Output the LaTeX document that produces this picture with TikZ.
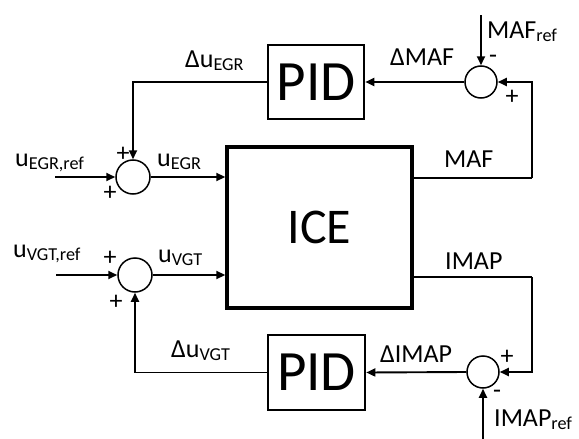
\documentclass[tikz,border=0pt]{standalone}
\usepackage{fontspec}
\setmainfont{Carlito}
\usepackage{tikz}
\usetikzlibrary{arrows.meta, calc}
\tikzset{
  block/.style={rectangle, draw=black, line width=2.6pt, inner sep=0pt},
  sumjunc/.style={circle, draw=black, line width=1.5pt, inner sep=0pt},
  arrow/.style={-{Triangle[length=9pt, width=8pt]}, line width=1.9pt},
  line/.style={line width=1.9pt},
  lbl/.style={font=\fontsize{26}{28}\selectfont, inner sep=0pt, anchor=base west},
  sgn/.style={font=\fontsize{26}{28}\selectfont, inner sep=0pt}
}

\begin{document}
\begin{tikzpicture}[x=1pt, y=-1pt]
  \useasboundingbox (0,0) rectangle (579,439);
  % engine and controllers
  \node[block, line width=3.4pt, minimum width=185pt, minimum height=161pt,
        font=\fontsize{50}{52}\selectfont] (ice) at (319.5,227.5) {ICE};
  \node[block, minimum width=96pt, minimum height=74pt,
        font=\fontsize{57}{60}\selectfont] (pidegr) at (316,82) {PID};
  \node[block, minimum width=97pt, minimum height=75pt,
        font=\fontsize{57}{60}\selectfont] (pidvgt) at (316.5,372.5) {PID};
  % summing junctions
  \node[sumjunc, minimum size=34pt] (sumegr) at (133,177) {};
  \node[sumjunc, minimum size=34pt] (sumvgt) at (135,275) {};
  \node[sumjunc, minimum size=32pt] (summaf) at (481,82) {};
  \node[sumjunc, minimum size=32pt] (sumimap) at (483,372) {};
  % free ends and corners
  \coordinate (egrref) at (55,177);
  \coordinate (vgtref) at (56,275);
  \coordinate (mafref) at (481,15);
  \coordinate (imapref) at (483,439);
  \coordinate (mafout) at (ice.east |- 0,178);
  \coordinate (imapout) at (ice.east |- 0,277);
  \coordinate (mafcorner) at (532,178);
  \coordinate (imapcorner) at (532,277);
  % EGR loop
  \draw[arrow] (egrref) -- (sumegr.west);
  \draw[arrow] (sumegr.east) -- (sumegr -| ice.west);
  \draw[arrow] (pidegr.west) -| (sumegr.north);
  \draw[line] (mafout) -- (mafcorner);
  \draw[arrow] (mafcorner) |- (summaf.east);
  \draw[arrow] (mafref) -- (summaf.north);
  \draw[arrow] (summaf.west) -- (pidegr.east);
  % VGT loop
  \draw[arrow] (vgtref) -- (sumvgt.west);
  \draw[arrow] (sumvgt.east) -- (sumvgt -| ice.west);
  \draw[arrow] (pidvgt.west) -| (sumvgt.south);
  \draw[line] (imapout) -- (imapcorner);
  \draw[arrow] (imapcorner) |- (sumimap.east);
  \draw[arrow] (imapref) -- (sumimap.south);
  \draw[arrow] (sumimap.west) -- (pidvgt.east);
  % signal labels
  \node[lbl] (lduegr) at (185,67) {Δu\textsubscript{EGR}};
  \node[lbl] (legrref) at (15,166) {u\textsubscript{EGR,ref}};
  \node[lbl] (luegr) at (157,166) {u\textsubscript{EGR}};
  \node[lbl] (ldmaf) at (390,65) {ΔMAF};
  \node[lbl] (lmafref) at (487,38) {MAF\textsubscript{ref}};
  \node[lbl] (lmaf) at (444,167) {MAF};
  \node[lbl] (limap) at (445,269) {IMAP};
  \node[lbl] (ldimap) at (380,362) {ΔIMAP};
  \node[lbl] (limapref) at (494,426) {IMAP\textsubscript{ref}};
  \node[lbl] (lvgtref) at (13,257) {u\textsubscript{VGT,ref}};
  \node[lbl] (luvgt) at (158,262) {u\textsubscript{VGT}};
  \node[lbl] (lduvgt) at (171,357) {Δu\textsubscript{VGT}};
  % signs
  \node[sgn] at (123,154) {+};
  \node[sgn] at (110,193) {+};
  \node[sgn] at (110,258) {+};
  \node[sgn] at (116,302) {+};
  \node[sgn] at (493,59) {-};
  \node[sgn] at (512,97) {+};
  \node[sgn] at (507,357) {+};
  \node[sgn] at (497,394) {-};
\end{tikzpicture}
\end{document}
